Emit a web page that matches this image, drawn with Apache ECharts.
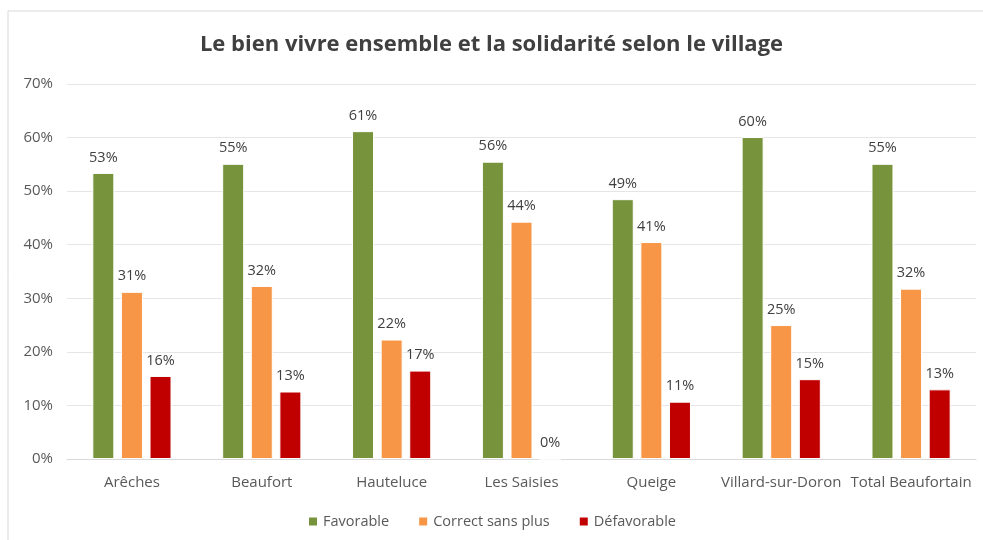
<!DOCTYPE html>
<html><head><meta charset="utf-8">
<script src="https://cdn.jsdelivr.net/npm/echarts@6/dist/echarts.min.js"></script>
<style>html,body{margin:0;padding:0;background:#fff}#c{width:983px;height:540px}</style>
</head><body><div id="c"></div>
<script>
const categories = ["Arêches","Beaufort","Hauteluce","Les Saisies","Queige","Villard-sur-Doron","Total Beaufortain"];
const favorable = [53.4, 55.1, 61.2, 55.5, 48.5, 60.1, 55.1];
const correct = [31.2, 32.3, 22.3, 44.3, 40.5, 25.0, 31.8];
const defavorable = [15.5, 12.6, 16.5, 0, 10.7, 14.9, 13.0];
const seriesNames = ["Favorable","Correct sans plus","Défavorable"];
const colors = ["#77933C","#F79646","#C00000"];
const font = "Open Sans";
const chart = echarts.init(document.getElementById('c'));
function mk(name, data, color){
  return {name, type:'bar', data, barWidth:22, barGap:'30%',
    itemStyle:{color, borderColor:'#fff', borderWidth:1},
    label:{show:true, position:'top', distance:8, color:'#404040', fontFamily:font, fontSize:14.5,
      formatter:p=>Math.round(p.value)+'%'}};
}
chart.setOption({
  animation:false,
  title:{text:'Le bien vivre ensemble et la solidarité selon le village', left:'center', top:29,
    textStyle:{fontFamily:font, fontSize:22, fontWeight:'bold', color:'#404040'}},
  legend:{bottom:6, left:'center', itemWidth:10, itemHeight:10, itemGap:28, icon:'rect',
    textStyle:{fontFamily:font, fontSize:14.5, color:'#595959'}},
  grid:{left:67, right:7, top:84, bottom:81},
  xAxis:{type:'category', data:categories,
    axisLine:{lineStyle:{color:'#d9d9d9'}}, axisTick:{show:false},
    axisLabel:{fontFamily:font, fontSize:15, color:'#595959', margin:16, interval:0}},
  yAxis:{type:'value', min:0, max:70, interval:10,
    axisLabel:{formatter:'{value}%', fontFamily:font, fontSize:15, color:'#595959', margin:14},
    splitLine:{lineStyle:{color:'#e6e6e6'}}, axisLine:{show:false}, axisTick:{show:false}},
  graphic:[
    {type:'line', shape:{x1:8,y1:11,x2:983,y2:11}, style:{stroke:'#d9d9d9', lineWidth:1}},
    {type:'line', shape:{x1:8,y1:11,x2:8,y2:540}, style:{stroke:'#d9d9d9', lineWidth:1}}
  ],
  series:[mk(seriesNames[0],favorable,colors[0]), mk(seriesNames[1],correct,colors[1]), mk(seriesNames[2],defavorable,colors[2])]
});
</script></body></html>
